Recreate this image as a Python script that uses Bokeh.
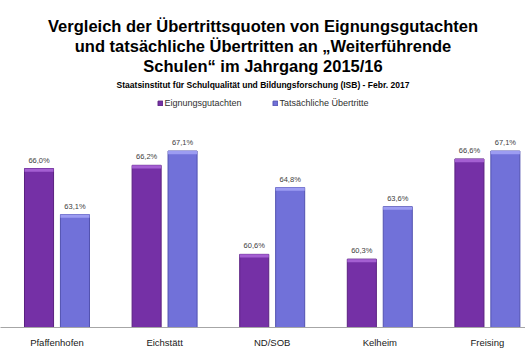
from bokeh.plotting import figure
from bokeh.models import (ColumnDataSource, Range1d, FixedTicker, Title, Legend,
                          LegendItem, LabelSet)
from bokeh.core.properties import value
from bokeh.transform import dodge
from bokeh.embed import file_html
from bokeh.resources import INLINE

# ---- data ----
categories = ["Pfaffenhofen", "Eichstätt", "ND/SOB", "Kelheim", "Freising"]
eignungsgutachten = [66.0, 66.2, 60.6, 60.3, 66.6]
tatsaechliche = [63.1, 67.1, 64.8, 63.6, 67.1]
series_names = ["Eignungsgutachten", "Tatsächliche Übertritte"]

title_lines = ["Vergleich der Übertrittsquoten von Eignungsgutachten",
               "und tatsächliche Übertritten an \u201eWeiterführende",
               "Schulen\u201c im Jahrgang 2015/16"]
subtitle_text = "Staatsinstitut für Schulqualität und Bildungsforschung (ISB) - Febr. 2017"

def fmt(v):
    return ("%.1f" % v).replace(".", ",") + "%"

idx = list(range(len(categories)))
source = ColumnDataSource(dict(
    x=idx,
    eig=eignungsgutachten,
    tat=tatsaechliche,
    eig_hl=[v - 0.2 for v in eignungsgutachten],
    tat_hl=[v - 0.2 for v in tatsaechliche],
    eig_lbl=[fmt(v) for v in eignungsgutachten],
    tat_lbl=[fmt(v) for v in tatsaechliche],
))

FONT = "Liberation Sans"
PURPLE = "#7530A6"
PURPLE_HL = "#A45FD2"
PURPLE_EDGE = "#5A2080"
BLUE = "#7171D9"
BLUE_HL = "#9C9CF2"
BLUE_EDGE = "#5252B0"

p = figure(width=525, height=350, output_backend="svg", toolbar_location=None,
           x_range=Range1d(-0.525, 4.354), y_range=Range1d(56, 70.78),
           title=None, y_axis_location=None,
           min_border_left=0, min_border_right=0,
           min_border_top=92, min_border_bottom=21)
p.outline_line_color = None
p.xgrid.grid_line_color = None
p.ygrid.grid_line_color = None
p.background_fill_color = "white"
p.border_fill_color = "white"

BW = 0.27
OFF = 0.167
r1 = p.vbar(x=dodge("x", -OFF, range=p.x_range), top="eig", bottom=56, width=BW,
            source=source, fill_color=PURPLE, line_color=PURPLE_EDGE, line_width=1)
r2 = p.vbar(x=dodge("x", OFF, range=p.x_range), top="tat", bottom=56, width=BW,
            source=source, fill_color=BLUE, line_color=BLUE_EDGE, line_width=1)
# lighter top edge (3D look)
p.vbar(x=dodge("x", -OFF, range=p.x_range), top="eig", bottom="eig_hl", width=BW,
       source=source, fill_color=PURPLE_HL, line_color=None)
p.vbar(x=dodge("x", OFF, range=p.x_range), top="tat", bottom="tat_hl", width=BW,
       source=source, fill_color=BLUE_HL, line_color=None)

for col, lbl, off in (("eig", "eig_lbl", -OFF), ("tat", "tat_lbl", OFF)):
    p.add_layout(LabelSet(x=dodge("x", off, range=p.x_range), y=col, text=lbl,
                          source=source, y_offset=4, text_align="center",
                          text_baseline="bottom", text_font=value(FONT),
                          text_font_size=value("7.5px"), text_color="#404040"))

xa = p.xaxis[0]
xa.ticker = FixedTicker(ticks=idx)
xa.major_label_overrides = {i: c for i, c in zip(idx, categories)}
xa.major_tick_line_color = None
xa.minor_tick_line_color = None
xa.axis_line_color = "#A6A6A6"
xa.axis_line_width = 1
xa.major_label_standoff = 3
xa.major_label_text_font = FONT
xa.major_label_text_font_size = "9.5px"
xa.major_label_text_color = "#202020"

legend = Legend(items=[LegendItem(label=series_names[0], renderers=[r1]),
                       LegendItem(label=series_names[1], renderers=[r2])],
                orientation="horizontal", location="top_center",
                glyph_width=6, glyph_height=6, label_standoff=2, spacing=30,
                label_text_font=FONT, label_text_font_size="9px",
                label_text_color="#303030", border_line_color=None,
                background_fill_alpha=0, padding=0, margin=6, label_height=10)
p.add_layout(legend)

p.add_layout(Title(text=subtitle_text, align="center", text_font=FONT,
                   text_font_size="8.5px", text_font_style="bold",
                   text_color="black", standoff=6, offset=0), "above")
for line in reversed(title_lines):
    p.add_layout(Title(text=line, align="center", text_font=FONT,
                       text_font_size="16.5px", text_font_style="bold",
                       text_color="black", standoff=0, offset=0), "above")

open("out.html", "w").write(file_html(p, INLINE))
